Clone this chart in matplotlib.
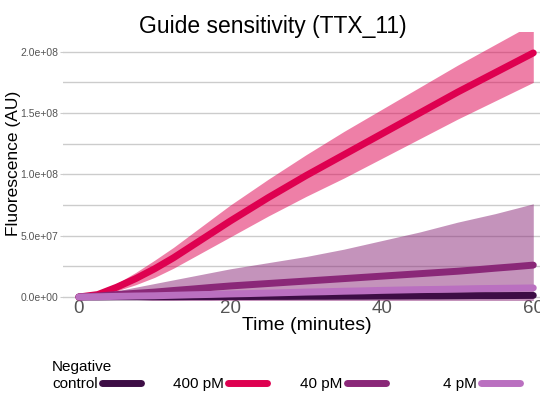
import numpy as np
import matplotlib
matplotlib.use("Agg")
import matplotlib.pyplot as plt
from matplotlib.lines import Line2D
from matplotlib.ticker import FuncFormatter, MultipleLocator

plt.rcParams['font.family'] = ['Liberation Sans', 'DejaVu Sans']

# Данные (флуоресценция в единицах 1e8), шаг 2.5 минуты
time_min = [0, 2.5, 5, 7.5, 10, 12.5, 15, 17.5, 20, 22.5, 25, 27.5, 30,
            32.5, 35, 37.5, 40, 42.5, 45, 47.5, 50, 52.5, 55, 57.5, 60]

neg_mean = [0, 0, 0.001, 0.001, 0.002, 0.002, 0.003, 0.003, 0.004, 0.004, 0.005, 0.005, 0.006,
            0.006, 0.007, 0.007, 0.008, 0.008, 0.009, 0.009, 0.010, 0.011, 0.011, 0.012, 0.013]

pm400_mean = [0, 0.02, 0.08, 0.15, 0.23, 0.32, 0.42, 0.52, 0.62, 0.715, 0.81, 0.90, 0.99,
              1.075, 1.16, 1.245, 1.33, 1.415, 1.50, 1.585, 1.67, 1.75, 1.83, 1.91, 1.99]
pm400_low = [0, 0.01, 0.05, 0.10, 0.16, 0.235, 0.32, 0.405, 0.49, 0.575, 0.66, 0.74, 0.82,
             0.895, 0.97, 1.05, 1.13, 1.21, 1.29, 1.37, 1.45, 1.525, 1.60, 1.675, 1.75]
pm400_high = [0, 0.03, 0.11, 0.20, 0.30, 0.405, 0.52, 0.635, 0.75, 0.855, 0.96, 1.06, 1.16,
              1.255, 1.35, 1.44, 1.53, 1.62, 1.71, 1.80, 1.89, 1.975, 2.06, 2.145, 2.23]

pm40_mean = [0, 0.008, 0.02, 0.03, 0.04, 0.053, 0.065, 0.078, 0.09, 0.10, 0.11, 0.12, 0.13,
             0.14, 0.15, 0.16, 0.17, 0.18, 0.19, 0.20, 0.21, 0.222, 0.235, 0.247, 0.26]
pm40_low = [0, -0.004, -0.01, -0.02, -0.03, -0.034, -0.04, -0.044, -0.05, -0.055, -0.06, -0.065, -0.07,
            -0.08, -0.09, -0.105, -0.12, -0.135, -0.15, -0.17, -0.19, -0.20, -0.21, -0.226, -0.24]
pm40_high = [0, 0.02, 0.05, 0.08, 0.11, 0.14, 0.17, 0.20, 0.23, 0.255, 0.28, 0.305, 0.33,
             0.36, 0.39, 0.425, 0.46, 0.495, 0.53, 0.57, 0.61, 0.645, 0.68, 0.72, 0.76]

pm4_mean = [0, 0.002, 0.005, 0.008, 0.01, 0.014, 0.018, 0.021, 0.025, 0.028, 0.032, 0.036, 0.04,
            0.043, 0.047, 0.05, 0.054, 0.057, 0.06, 0.062, 0.065, 0.068, 0.07, 0.072, 0.074]

labels = ["control", "400 pM", "40 pM", "4 pM"]
colors = ["#3d0d45", "#de0050", "#8a2878", "#ba70c0"]
legend_x = [52, 173, 300, 443]   # левый край подписи, px

scale = 1e8
t = np.array(time_min)

fig = plt.figure(figsize=(5.4, 3.93), dpi=100)
ax = fig.add_axes([63 / 540, 93 / 393, 493 / 540, 268.3 / 393])

# Доверительные полосы
ax.fill_between(t, np.array(pm400_low) * scale, np.array(pm400_high) * scale,
                color=colors[1], alpha=0.5, lw=0, zorder=1)
ax.fill_between(t, np.array(pm40_low) * scale, np.array(pm40_high) * scale,
                color=colors[2], alpha=0.5, lw=0, zorder=1)

# Линии
series = [neg_mean, pm400_mean, pm40_mean, pm4_mean]
for vals, c in zip(series, colors):
    ax.plot(t, np.array(vals) * scale, color=c, lw=5, solid_capstyle='round',
            solid_joinstyle='round', zorder=3, clip_on=False)

ax.set_xlim(-2.1, 63)
ax.set_ylim(-0.0245 * scale, 2.163 * scale)
ax.set_xticks([0, 20, 40, 60])
ax.yaxis.set_major_locator(MultipleLocator(0.5 * scale))
ax.yaxis.set_minor_locator(MultipleLocator(0.25 * scale))
ax.yaxis.set_major_formatter(FuncFormatter(lambda v, p: "{:.1e}".format(v)))

ax.grid(True, axis='y', which='both', color='#cccccc', lw=1.0, zorder=0)
ax.set_axisbelow(True)
for s in ax.spines.values():
    s.set_visible(False)
ax.tick_params(axis='x', length=0, pad=0, labelsize=13.5, labelcolor='#555555')
ax.tick_params(axis='y', which='major', length=2.5, width=0.8, color='#cccccc',
               pad=1, labelsize=7.5, labelcolor='#555555')
ax.tick_params(axis='y', which='minor', length=0)

fig.text(272.5 / 540, 1 - 15 / 393, "Guide sensitivity (TTX_11)", ha='center', va='top',
         fontsize=16.5)
fig.text(307 / 540, 63 / 393, "Time (minutes)", ha='center', va='baseline', fontsize=14)
fig.text(14 / 540, 1 - 163 / 393, "Fluorescence (AU)", ha='center', va='center',
         rotation=90, fontsize=12.5)

# Легенда: отдельный элемент для каждой серии
for lab, c, x in zip(labels, colors, legend_x):
    h = Line2D([0], [0], color=c, lw=5, solid_capstyle='round')
    fig.legend([h], [lab], loc='lower left', bbox_to_anchor=(x / 540, 2 / 393),
               frameon=False, fontsize=11, markerfirst=False,
               handlelength=2.55, handletextpad=0.3,
               borderpad=0, borderaxespad=0)
fig.text(52 / 540, (393 - 371) / 393, "Negative", ha='left', va='baseline', fontsize=11)

fig.savefig("out.png", dpi=100)
